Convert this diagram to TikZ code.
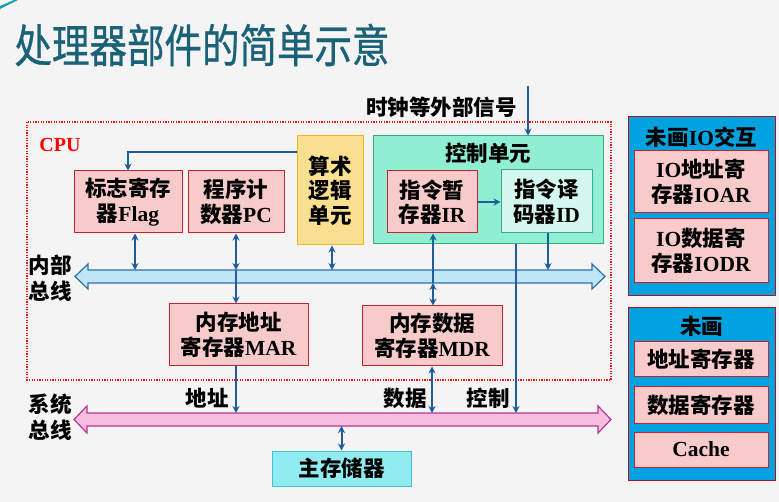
\documentclass[tikz,border=0pt]{standalone}
\usepackage{fontspec}
\setmainfont{Liberation Serif}
\newfontfamily\cjk{Noto Sans CJK SC}
\newfontfamily\cjkt[FakeBold=0.8]{Noto Sans CJK SC}
\usetikzlibrary{arrows.meta}
\newcommand{\zh}[1]{{\cjk #1}}
\definecolor{bgcol}{HTML}{F4F4F4}
\definecolor{titlecol}{HTML}{1B6278}
\definecolor{boxpink}{HTML}{F8CBCB}
\definecolor{boxred}{HTML}{C8202E}
\definecolor{aluyel}{HTML}{F9DF90}
\definecolor{aluline}{HTML}{F2B61C}
\definecolor{cugreen}{HTML}{90EFD3}
\definecolor{culine}{HTML}{38AD84}
\definecolor{idfill}{HTML}{D5F8EE}
\definecolor{memfill}{HTML}{90ECF1}
\definecolor{memline}{HTML}{3EC6D0}
\definecolor{iofill}{HTML}{00A3E0}
\definecolor{ioline}{HTML}{B3101C}
\definecolor{arrblue}{HTML}{1F5C9C}
\definecolor{ibfill}{HTML}{BEE6F6}
\definecolor{ibline}{HTML}{2E6FB0}
\definecolor{sbfill}{HTML}{F8BEE0}
\definecolor{sbline}{HTML}{B8378E}
\definecolor{cpured}{HTML}{FF1010}
\begin{document}
\begin{tikzpicture}[x=1pt,y=-1pt,
  txt/.style={font=\fontsize{21.5}{24.5}\selectfont\bfseries, align=center, inner sep=0pt},
  box/.style={txt, draw=boxred, fill=boxpink, line width=1pt},
  alubox/.style={txt, draw=aluline, fill=aluyel, line width=1pt},
  cubox/.style={draw=culine, fill=cugreen, line width=1pt, inner sep=0pt},
  idbox/.style={txt, draw=culine, fill=idfill, line width=1pt},
  membox/.style={txt, draw=memline, fill=memfill, line width=1pt},
  iobox/.style={draw=ioline, fill=iofill, line width=1pt, inner sep=0pt},
  lbl/.style={font=\fontsize{21.5}{26}\selectfont\bfseries, align=center, inner sep=0pt},
  plain/.style={draw=arrblue, line width=2pt},
  arr/.style={plain, -{Stealth[length=7pt,width=7pt]}},
  dbl/.style={plain, {Stealth[length=7pt,width=7pt]}-{Stealth[length=7pt,width=7pt]}},
  ttl/.style={font=\fontsize{37.5}{40}\selectfont\cjkt, inner sep=0pt}
]
\useasboundingbox (0,0) rectangle (779,502);
\fill[bgcol] (0,0) rectangle (779,502);
% corner decoration
\fill[titlecol!60!cyan] (0,6) -- (14,0) -- (18,0) -- (0,9) -- cycle;

% title
\node[ttl, text=titlecol] (title) at (202,45) {\scalebox{1}[1.22]{处理器部件的简单示意}};

% CPU border
\draw[cpured, line width=1.3pt, dash pattern=on 1.3pt off 1.3pt] (27,122) rectangle (611,380);
\node[text=red, font=\fontsize{20}{22}\selectfont\bfseries, inner sep=0pt] (cpu) at (60,145) {CPU};

% boxes
\node[box, minimum width=108pt, minimum height=62pt] (flag) at (128,202) {\zh{标志寄存}\\\zh{器}Flag};
\node[box, minimum width=96pt, minimum height=62pt] (pc) at (236,202) {\zh{程序计}\\\zh{数器}PC};
\node[alubox, minimum width=66pt, minimum height=109pt] (alu) at (330,190.5) {\zh{算术}\\\zh{逻辑}\\\zh{单元}};
\node[cubox, minimum width=230pt, minimum height=108pt] (cu) at (488,190) {};
\node[txt] (cut) at (488,153) {\zh{控制单元}};
\node[box, minimum width=90pt, minimum height=62pt] (ir) at (432,202) {\zh{指令暂}\\\zh{存器}IR};
\node[idbox, minimum width=91pt, minimum height=63pt] (id) at (546.5,201.5) {\zh{指令译}\\\zh{码器}ID};
\node[box, minimum width=139pt, minimum height=62pt] (mar) at (238.5,335) {\zh{内存地址}\\\zh{寄存器}MAR};
\node[box, minimum width=140pt, minimum height=60pt] (mdr) at (432,336) {\zh{内存数据}\\\zh{寄存器}MDR};
\node[membox, minimum width=139pt, minimum height=35pt] (mem) at (341.5,468.5) {\zh{主存储器}};

% right panel
\node[iobox, minimum width=147pt, minimum height=179pt] (io) at (701.5,206.5) {};
\node[txt] (iot) at (701.5,137) {\zh{未画}IO\zh{交互}};
\node[box, minimum width=134pt, minimum height=62pt] (ioar) at (701,182) {IO\zh{地址寄}\\\zh{存器}IOAR};
\node[box, minimum width=134pt, minimum height=64pt] (iodr) at (701,251) {IO\zh{数据寄}\\\zh{存器}IODR};
\node[iobox, minimum width=147pt, minimum height=172pt] (np) at (701.5,394) {};
\node[txt] (npt) at (701.5,326) {\zh{未画}};
\node[box, minimum width=134pt, minimum height=35pt] (ar) at (701,359.5) {\zh{地址寄存器}};
\node[box, minimum width=134pt, minimum height=36pt] (dr) at (701,405) {\zh{数据寄存器}};
\node[box, minimum width=134pt, minimum height=35pt] (cache) at (701,449.5) {Cache};

% internal bus
\filldraw[fill=ibfill, draw=ibline, line width=1.2pt]
  (75,276.5) -- (88,264) -- (88,270) -- (592,270) -- (592,264) -- (605,276.5)
  -- (592,289) -- (592,283) -- (88,283) -- (88,289) -- cycle;
\node[lbl] (iblbl) at (50,278) {\zh{内部}\\\zh{总线}};
% system bus
\filldraw[fill=sbfill, draw=sbline, line width=1.2pt]
  (74,419.5) -- (87,406) -- (87,413) -- (598,413) -- (598,406) -- (611,419.5)
  -- (598,433) -- (598,426) -- (87,426) -- (87,433) -- cycle;
\node[lbl] (sblbl) at (50,417) {\zh{系统}\\\zh{总线}};

% bus coordinates
\coordinate (ib-flag) at (135,270);
\coordinate (ib-pc) at (236,270);
\coordinate (ibb-pc) at (236,283);
\coordinate (ib-alu) at (332,270);
\coordinate (ib-ir) at (433,270);
\coordinate (ibb-ir) at (433,283);
\coordinate (ib-id) at (548,270);
\coordinate (sb-mar) at (236,413);
\coordinate (sb-mdr) at (432,413);
\coordinate (sb-ctl) at (516,413);
\coordinate (sbb-mem) at (341.5,426);
\coordinate (clk) at (528,86);
\coordinate (aluy) at (0,152);

% connectors
\draw[arr] (alu.west |- aluy) -| (flag.north);
\draw[arr] (ir.east) -- (id.west |- ir.east);
\draw[dbl] (flag.south -| ib-flag) -- (ib-flag);
\draw[dbl] (pc.south -| ib-pc) -- (ib-pc);
\draw[plain] (ib-pc) -- (ibb-pc);
\draw[arr] (ibb-pc) -- (mar.north -| ibb-pc);
\draw[dbl] (alu.south -| ib-alu) -- (ib-alu);
\draw[arr] (ib-ir) -- (ir.south -| ib-ir);
\draw[plain] (ib-ir) -- (ibb-ir);
\draw[dbl] (ibb-ir) -- (mdr.north -| ibb-ir);
\draw[arr] (id.south -| ib-id) -- (ib-id);
\draw[arr] (cu.south -| sb-ctl) -- (sb-ctl);
\draw[arr] (clk) -- (cu.north -| clk);
\draw[arr] (mar.south -| sb-mar) -- (sb-mar);
\draw[dbl] (mdr.south -| sb-mdr) -- (sb-mdr);
\draw[dbl] (sbb-mem) -- (mem.north -| sbb-mem);

% labels
\node[lbl, anchor=east] (clktxt) at (517,107) {\zh{时钟等外部信号}};
\node[lbl] (addr) at (207,398) {\zh{地址}};
\node[lbl] (data) at (405,398) {\zh{数据}};
\node[lbl] (ctl) at (488,398) {\zh{控制}};
\end{tikzpicture}
\end{document}
